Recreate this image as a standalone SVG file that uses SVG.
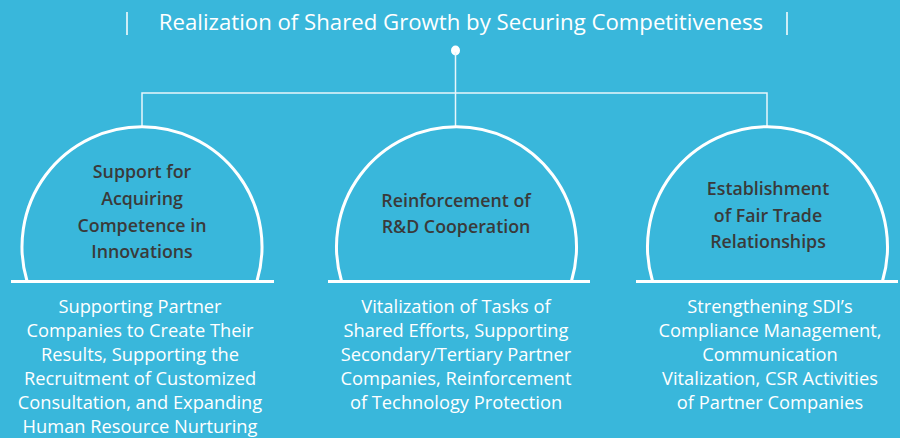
<svg xmlns="http://www.w3.org/2000/svg" width="900" height="438" viewBox="0 0 900 438">
  <style>
    .title { font-family: "Open Sans", "Noto Sans", sans-serif; font-size: 22.2px; fill: #ffffff; }
    .head { font-family: "Open Sans", "Noto Sans", sans-serif; font-size: 17.8px; font-weight: 600; fill: #3a3a3a; text-anchor: middle; }
    .body { font-family: "Open Sans", "Noto Sans", sans-serif; font-size: 18.3px; fill: #ffffff; text-anchor: middle; }
    .dome { fill: none; stroke: #ffffff; stroke-width: 3; }
    .base { stroke: #ffffff; stroke-width: 3; }
    .link { fill: none; stroke: #e8f6fb; stroke-width: 1.5; }
  </style>
  <rect width="900" height="438" fill="#39b7db"/>

  <!-- title bar -->
  <g id="title">
    <line x1="127" y1="12" x2="127" y2="35" stroke="#ffffff" stroke-width="1.5"/>
    <line x1="787" y1="12" x2="787" y2="35" stroke="#ffffff" stroke-width="1.5"/>
    <text class="title" x="461" y="30" text-anchor="middle">Realization of Shared Growth by Securing Competitiveness</text>
  </g>

  <!-- connectors -->
  <g id="connectors">
    <ellipse cx="455.5" cy="50.5" rx="4.5" ry="5" fill="#ffffff"/>
    <line class="link" x1="455.5" y1="52" x2="455.5" y2="127"/>
    <polyline class="link" points="142,127 142,93 767,93 767,127"/>
  </g>

  <!-- left pillar -->
  <g id="node-innovation">
    <path class="dome" d="M 27 281 A 120 120 0 1 1 257 281"/>
    <line class="base" x1="11" y1="281.5" x2="274" y2="281.5"/>
    <text class="head" x="142" y="178">Support for</text>
    <text class="head" x="142" y="205">Acquiring</text>
    <text class="head" x="142" y="232">Competence in</text>
    <text class="head" x="142" y="258">Innovations</text>
    <text class="body" x="140" y="313">Supporting Partner</text>
    <text class="body" x="140" y="337">Companies to Create Their</text>
    <text class="body" x="140" y="361">Results, Supporting the</text>
    <text class="body" x="140" y="385">Recruitment of Customized</text>
    <text class="body" x="140" y="409">Consultation, and Expanding</text>
    <text class="body" x="140" y="433">Human Resource Nurturing</text>
  </g>

  <!-- middle pillar -->
  <g id="node-rnd">
    <path class="dome" d="M 341.5 281 A 120 120 0 1 1 571.5 281"/>
    <line class="base" x1="328" y1="281.5" x2="590" y2="281.5"/>
    <text class="head" x="456" y="207">Reinforcement of</text>
    <text class="head" x="456" y="233">R&amp;D Cooperation</text>
    <text class="body" x="456" y="313">Vitalization of Tasks of</text>
    <text class="body" x="456" y="337">Shared Efforts, Supporting</text>
    <text class="body" x="456" y="361">Secondary/Tertiary Partner</text>
    <text class="body" x="456" y="385">Companies, Reinforcement</text>
    <text class="body" x="456" y="409">of Technology Protection</text>
  </g>

  <!-- right pillar -->
  <g id="node-fairtrade">
    <path class="dome" d="M 652.5 281 A 120 120 0 1 1 882.5 281"/>
    <line class="base" x1="636" y1="281.5" x2="898" y2="281.5"/>
    <text class="head" x="768" y="195">Establishment</text>
    <text class="head" x="768" y="222">of Fair Trade</text>
    <text class="head" x="768" y="248">Relationships</text>
    <text class="body" x="770" y="313">Strengthening SDI’s</text>
    <text class="body" x="770" y="337">Compliance Management,</text>
    <text class="body" x="770" y="361">Communication</text>
    <text class="body" x="770" y="385">Vitalization, CSR Activities</text>
    <text class="body" x="770" y="409">of Partner Companies</text>
  </g>
</svg>
